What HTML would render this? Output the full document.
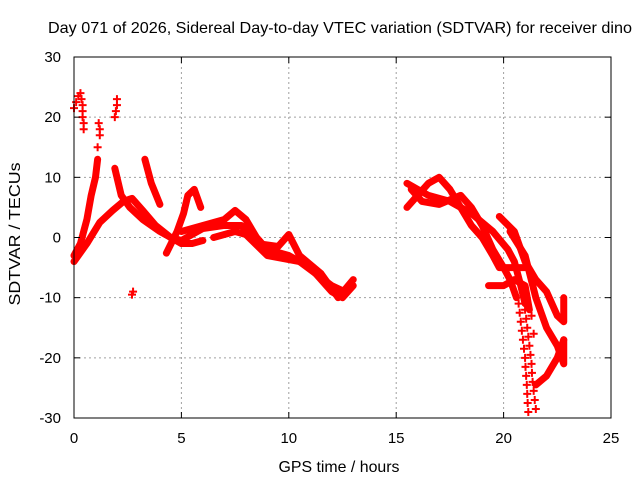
<!DOCTYPE html>
<html><head><meta charset="utf-8"><style>
body{margin:0;background:#fff}
svg{display:block;font-family:"Liberation Sans",sans-serif}
</style></head><body>
<svg id="c" width="640" height="480" viewBox="0 0 640 480">
<text x="340" y="33" font-size="16" text-anchor="middle" textLength="584" lengthAdjust="spacingAndGlyphs">Day 071 of 2026, Sidereal Day-to-day VTEC variation (SDTVAR) for receiver dino</text>
<text x="339" y="472" font-size="16" text-anchor="middle" textLength="121" lengthAdjust="spacingAndGlyphs">GPS time / hours</text>
<text transform="translate(20,234) rotate(-90)" font-size="16" text-anchor="middle" textLength="143" lengthAdjust="spacingAndGlyphs">SDTVAR / TECUs</text>
<g id="grid"></g><g id="data"></g><g id="axes"></g>
</svg>
<script>
const xTicks=[0,5,10,15,20,25];
const yTicks=[-30,-20,-10,0,10,20,30];
const trackA=[[0,-3],[0.3,-1],[0.6,3],[0.8,7],[1.0,10],[1.1,13]];
const trackB=[[0,-4],[0.6,-1],[1.2,2.5],[1.8,4.5],[2.3,6],[2.7,6.5],[3.2,4.5],[3.8,2],[4.5,0],[5,-0.5]];
const trackC=[[1.9,11.5],[2.2,7],[2.6,5],[3.2,3],[4,1],[4.5,0],[5,-1],[5.5,-1],[6,-0.5]];
const trackD=[[3.3,13],[3.6,9],[4.0,5.5]];
const trackE=[[4.3,-2.6],[4.8,1],[5.1,4],[5.3,7],[5.6,8],[5.9,5]];
const trackF=[[5,1],[6,2],[7,3],[7.5,4.5],[8,3],[8.5,0],[9,-2],[10,-3],[11,-5],[12,-9],[12.5,-10],[13,-8]];
const trackG=[[5,-0.5],[6,1.5],[7,2],[7.8,2],[8.5,-1],[9.5,-1.5],[10,0.5],[10.5,-3],[11.5,-6],[12.3,-10],[13,-7]];
const trackH=[[6.5,0],[7.5,1],[8,0.5],[9,-3],[10.5,-4],[12,-8],[12.6,-9]];
const trackR1=[[15.5,5],[16,7],[16.5,9],[17,10],[17.5,8],[18,5],[18.5,2],[19,0],[19.5,-3],[19.8,-5],[20.5,-5],[21,-5]];
const trackR2=[[15.5,9],[16,8],[16.5,7],[17.5,6],[18.5,4],[19.5,1],[20.2,-2],[20.5,-4],[20.8,-8],[21,-11]];
const trackR3=[[15.7,8],[16.2,6],[17,5.5],[18,7],[18.5,5],[19,2],[19.5,-2],[20,-5],[20.3,-7],[20.6,-10]];
const trackR4=[[19.3,-8],[20,-8],[20.5,-7],[21,-8],[21.2,-12]];
const trackR5=[[19.8,3.5],[20.5,1],[21,-4],[21.5,-7],[22,-9],[22.5,-13],[22.8,-14],[22.8,-10]];
const trackR6=[[20.3,1],[21,-3],[21.5,-10],[22,-15],[22.5,-18],[22.8,-21],[22.8,-17]];
const trackR7=[[21.5,-24.5],[22,-23],[22.5,-20],[22.8,-17]];
const markers=[[0,21.5],[0.1,22.5],[0.2,23.5],[0.3,24],[0.35,23],[0.4,22],[0.4,21],[0.4,20],[0.45,19],[0.45,18],
[1.2,17],[1.2,18],[1.15,19],[1.1,15],[1.9,20],[1.95,21],[2.0,22],[2.0,23],[2.7,-9.5],[2.75,-9],
[20.7,-11],[20.75,-12.5],[20.8,-14],[20.85,-15.5],[20.9,-17],[20.95,-18.5],[21.0,-20],[21.02,-21.5],[21.05,-23],[21.08,-24.5],[21.1,-26],[21.12,-27.5],[21.15,-29],
[21.0,-12],[21.05,-13.5],[21.1,-15],[21.15,-16.5],[21.2,-18],[21.25,-19.5],[21.3,-21],[21.32,-22.5],[21.35,-24],[21.4,-25.5],[21.45,-27],[21.5,-28.5],[21.3,-13],[21.4,-16]];
const tracks=[trackA,trackB,trackC,trackD,trackE,trackF,trackG,trackH,trackR1,trackR2,trackR3,trackR4,trackR5,trackR6,trackR7];
const L=74,R=611,T=57,B=418;
const X=h=>L+(h/25)*(R-L), Y=v=>B-((v+30)/60)*(B-T);
const NS='http://www.w3.org/2000/svg';
function mk(t,a,p){const e=document.createElementNS(NS,t);for(const k in a)e.setAttribute(k,a[k]);p.appendChild(e);return e;}
const g=document.getElementById('grid'),d=document.getElementById('data'),ax=document.getElementById('axes');
xTicks.forEach(t=>{
 if(t>0&&t<25){const l=mk('line',{x1:X(t),x2:X(t),y1:T,y2:B,stroke:'#a0a0a0','stroke-dasharray':'2,3'},g);
 
 }
 mk('line',{x1:X(t),x2:X(t),y1:B,y2:B-6,stroke:'#000'},ax);
 mk('line',{x1:X(t),x2:X(t),y1:T,y2:T+6,stroke:'#000'},ax);
 const tx=mk('text',{x:X(t),y:B+25,'font-size':15,'text-anchor':'middle'},ax);tx.textContent=t;
 
 
});
yTicks.forEach(t=>{
 if(t>-30&&t<30){const l=mk('line',{x1:L,x2:R,y1:Y(t),y2:Y(t),stroke:'#a0a0a0','stroke-dasharray':'2,3'},g);
 
 }
 mk('line',{x1:L,x2:L+6,y1:Y(t),y2:Y(t),stroke:'#000'},ax);
 mk('line',{x1:R,x2:R-6,y1:Y(t),y2:Y(t),stroke:'#000'},ax);
 const tx=mk('text',{x:61,y:Y(t)+5,'font-size':15,'text-anchor':'end'},ax);tx.textContent=t;
 
 
});
const fr=mk('rect',{x:L,y:T,width:R-L,height:B-T,fill:'none',stroke:'#000'},ax);


tracks.forEach(tr=>{
 const p=mk('polyline',{points:tr.map(q=>X(q[0])+','+Y(q[1])).join(' '),fill:'none',stroke:'#f00','stroke-width':7,'stroke-linejoin':'round','stroke-linecap':'round'},d);
 
 
});
markers.forEach(q=>{
 const x=X(q[0]),y=Y(q[1]);
 const p=mk('path',{d:`M${x-4},${y}H${x+4}M${x},${y-4}V${y+4}`,stroke:'#f00','stroke-width':2},d);
 
 
});
</script>
</body></html>
